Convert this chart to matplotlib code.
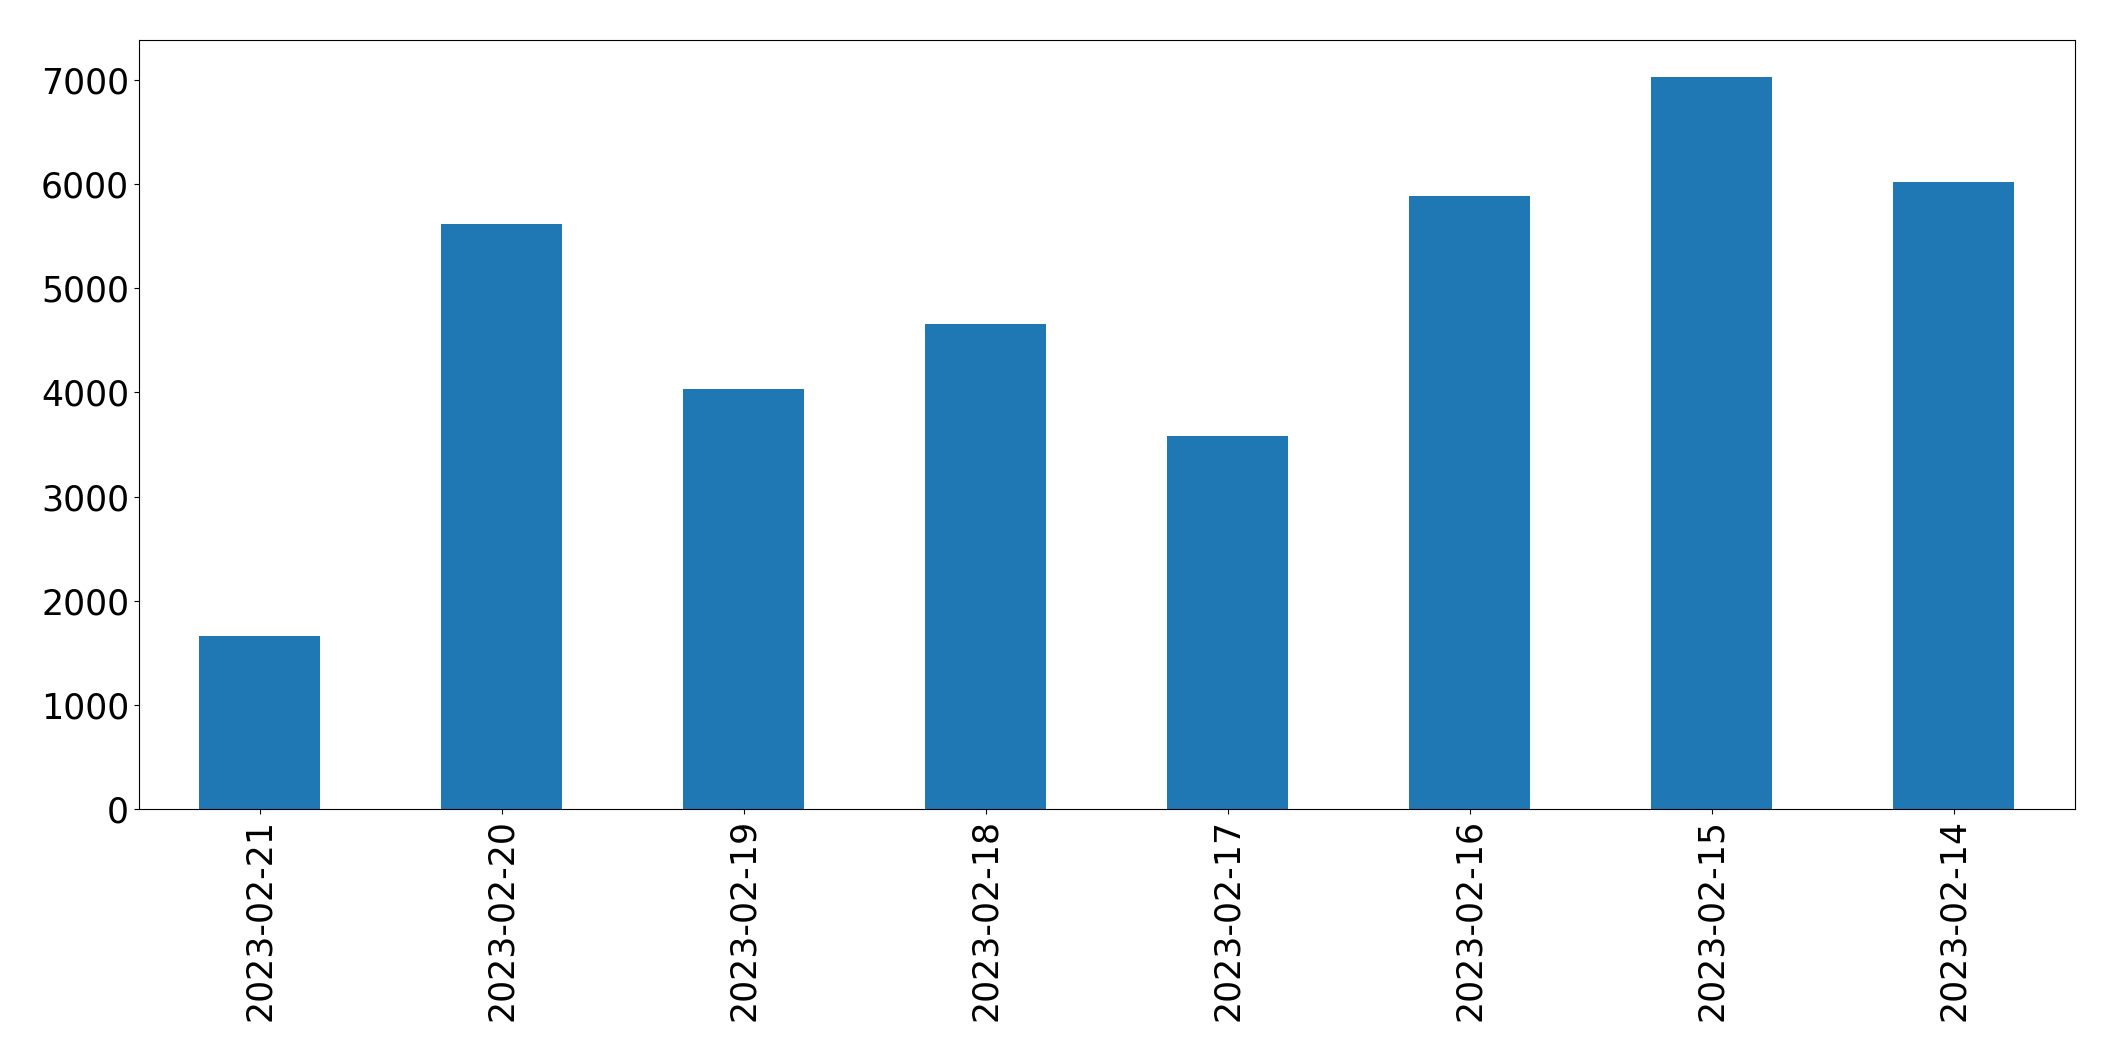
import matplotlib
matplotlib.use("Agg")
import matplotlib.pyplot as plt

dates = ["2023-02-21", "2023-02-20", "2023-02-19", "2023-02-18",
         "2023-02-17", "2023-02-16", "2023-02-15", "2023-02-14"]
values = [1661, 5621, 4030, 4655, 3579, 5890, 7030, 6025]

fig = plt.figure(figsize=(21.15, 10.61), dpi=100)
ax = fig.add_subplot(111)
fig.subplots_adjust(left=0.0657, right=0.981, top=0.962, bottom=0.2375)

x = list(range(len(dates)))
ax.bar(x, values, width=0.5, color="#1f77b4")
ax.set_xlim(-0.5, len(dates) - 0.5)
ax.set_xticks(x)
ax.set_xticklabels(dates, rotation=90, fontsize=25)
ax.tick_params(axis="y", labelsize=25)

fig.savefig("out.png", dpi=100)
